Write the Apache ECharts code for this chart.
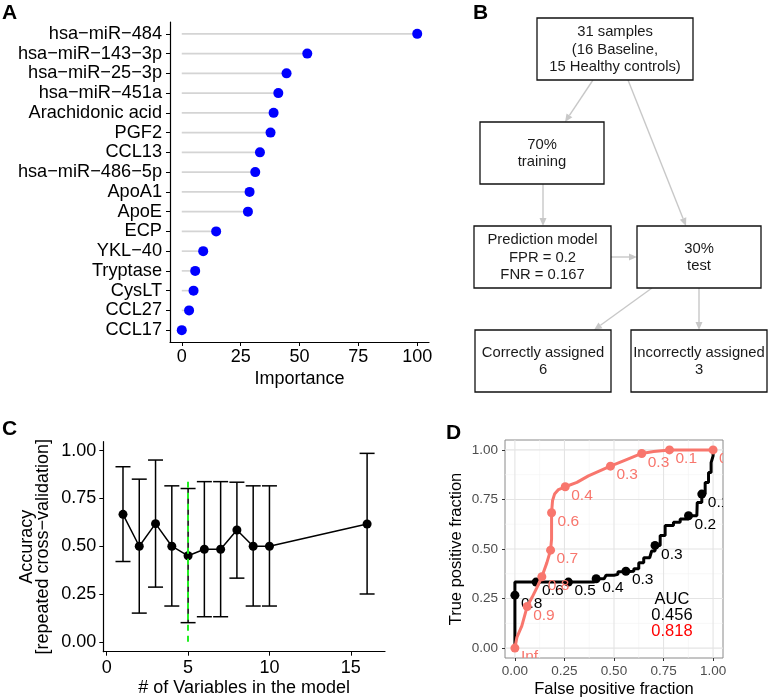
<!DOCTYPE html>
<html><head><meta charset="utf-8">
<script src="https://cdn.jsdelivr.net/npm/echarts@6/dist/echarts.min.js"></script>
<style>html,body{margin:0;padding:0;background:#fff}#c{width:768px;height:699px}</style>
</head><body><div id="c"></div>
<script>
const FONT = "'Liberation Sans', Arial, Helvetica, sans-serif";

// ---------- Panel A : variable importance ----------
const impCategories = ['hsa−miR−484', 'hsa−miR−143−3p', 'hsa−miR−25−3p', 'hsa−miR−451a', 'Arachidonic acid', 'PGF2', 'CCL13', 'hsa−miR−486−5p', 'ApoA1', 'ApoE', 'ECP', 'YKL−40', 'Tryptase', 'CysLT', 'CCL27', 'CCL17'];
const impValues = [100, 53.3, 44.5, 41.0, 39.0, 37.7, 33.2, 31.2, 28.8, 28.1, 14.6, 9.1, 5.7, 5.0, 3.1, 0];
const impTicks = [0, 25, 50, 75, 100];

// ---------- Panel B : flow chart texts ----------
const flowTexts = [
  '31 samples\n(16 Baseline,\n15 Healthy controls)',
  '70%\ntraining',
  'Prediction model\nFPR = 0.2\nFNR = 0.167',
  '30%\ntest',
  'Correctly assigned\n6',
  'Incorrectly assigned\n3'
];

// ---------- Panel C : accuracy vs number of variables ----------
const nVars = [1, 2, 3, 4, 5, 6, 7, 8, 9, 10, 16];
const accMean = [0.667, 0.50, 0.618, 0.50, 0.45, 0.484, 0.484, 0.585, 0.50, 0.50, 0.616];
const accLow = [0.42, 0.15, 0.286, 0.187, 0.10, 0.131, 0.131, 0.333, 0.187, 0.187, 0.25];
const accHigh = [0.916, 0.851, 0.951, 0.816, 0.802, 0.838, 0.838, 0.835, 0.816, 0.816, 0.986];
const nVarsTicks = [0, 5, 10, 15];
const accTicks = [0, 0.25, 0.5, 0.75, 1];
const selectedN = 5;
const selectedLineTop = 0.857;

// ---------- Panel D : ROC curves ----------
const rocTicks = [0, 0.25, 0.5, 0.75, 1];
const rocMinor = [0.125, 0.375, 0.625, 0.875];
const rocBlackFpf = [0, 0, 0.40, 0.41, 0.45, 0.46, 0.50, 0.52, 0.56, 0.60, 0.625, 0.65, 0.68, 0.69, 0.707, 0.733, 0.758, 0.80, 0.834, 0.876, 0.918, 0.92, 0.943, 0.96, 0.977, 0.99, 1.0, 1.0];
const rocBlackTpf = [0, 0.333, 0.333, 0.35, 0.352, 0.368, 0.372, 0.385, 0.388, 0.40, 0.43, 0.456, 0.456, 0.49, 0.518, 0.568, 0.618, 0.635, 0.652, 0.668, 0.668, 0.735, 0.777, 0.836, 0.886, 0.936, 0.97, 1.0];
const rocRedFpf = [0, 0.01, 0.035, 0.062, 0.086, 0.111, 0.136, 0.161, 0.18, 0.185, 0.185, 0.19, 0.2, 0.22, 0.254, 0.313, 0.371, 0.482, 0.548, 0.64, 0.70, 0.78, 1.0];
const rocRedTpf = [0, 0.054, 0.112, 0.21, 0.255, 0.305, 0.36, 0.43, 0.494, 0.55, 0.683, 0.745, 0.777, 0.80, 0.814, 0.836, 0.869, 0.918, 0.945, 0.982, 0.992, 1.0, 1.0];
const cutBlackFpf = [0, 0.107, 0.27, 0.41, 0.56, 0.707, 0.876, 0.943];
const cutBlackTpf = [0.267, 0.333, 0.333, 0.35, 0.388, 0.518, 0.668, 0.777];
const cutBlackLabels = ['0.8', '0.6', '0.5', '0.4', '0.3', '0.3', '0.2', '0.1'];
const cutRedFpf = [0, 0.062, 0.136, 0.18, 0.185, 0.254, 0.482, 0.64, 0.78, 1.0];
const cutRedTpf = [0, 0.21, 0.36, 0.494, 0.683, 0.814, 0.918, 0.982, 1.0, 1.0];
const cutRedLabels = ['Inf', '0.9', '0.8', '0.7', '0.6', '0.4', '0.3', '0.3', '0.1', '0'];
const aucTexts = ['AUC', '0.456', '0.818'];

const RED = '#F8766D';

const chart = echarts.init(document.getElementById('c'), null, {renderer: 'canvas'});

function zip(a, b) { return a.map((v, i) => [v, b[i]]); }

function blackAxis(extra) {
  return Object.assign({
    axisLine: {show: true, onZero: false, lineStyle: {color: '#000', width: 1.2}},
    splitLine: {show: false},
    nameTextStyle: {color: '#000', fontSize: 18, fontFamily: FONT}
  }, extra);
}

// ---------- Panel B graphics ----------
const boxes = [
  [537, 18, 156, 62],
  [480, 122, 124, 62],
  [474, 226, 137, 62],
  [637, 226, 124, 62],
  [475, 330, 136, 62],
  [631, 330, 136, 62]
];
const arrows = [
  [593, 80, 565, 122],
  [628, 80, 686, 226],
  [543, 184, 543, 226],
  [611, 257, 637, 257],
  [652, 288, 594, 330],
  [699, 288, 699, 330]
];
const graphics = [];
boxes.forEach((b, i) => {
  graphics.push({type: 'rect', shape: {x: b[0], y: b[1], width: b[2], height: b[3]},
    style: {fill: '#fff', stroke: '#111', lineWidth: 1.3}, z: 10});
  graphics.push({type: 'text', x: b[0] + b[2] / 2, y: b[1] + b[3] / 2 + 0.5, z: 11,
    style: {text: flowTexts[i], fill: '#1a1a1a', font: '14.8px ' + FONT, lineHeight: 17.5,
      align: 'center', verticalAlign: 'middle', textAlign: 'center', textVerticalAlign: 'middle'}});
});
arrows.forEach(a => {
  const [x1, y1, x2, y2] = a;
  const ang = Math.atan2(y2 - y1, x2 - x1);
  const L = 8, W = 3.5;
  const bx = x2 - L * Math.cos(ang), by = y2 - L * Math.sin(ang);
  const nx = -Math.sin(ang), ny = Math.cos(ang);
  graphics.push({type: 'line', z: 9, shape: {x1, y1, x2: bx, y2: by}, style: {stroke: '#c8c8c8', lineWidth: 1.4}});
  graphics.push({type: 'polygon', z: 9, shape: {points: [[x2, y2], [bx + nx * W, by + ny * W], [bx - nx * W, by - ny * W]]},
    style: {fill: '#c8c8c8'}});
});
// panel letters
[['A', 2, 3], ['B', 473, 3], ['C', 2, 419], ['D', 446, 423]].forEach(p => {
  graphics.push({type: 'text', x: p[1], y: p[2], z: 12,
    style: {text: p[0], fill: '#000', font: 'bold 21px ' + FONT, align: 'left', verticalAlign: 'top', textAlign: 'left', textVerticalAlign: 'top'}});
});
// AUC text
const aucColors = ['#000', '#000', '#ff0000'];
aucTexts.forEach((t, i) => {
  graphics.push({type: 'text', x: 672, y: 599 + i * 16.3, z: 12,
    style: {text: t, fill: aucColors[i], font: '16.5px ' + FONT, align: 'center', verticalAlign: 'middle', textAlign: 'center', textVerticalAlign: 'middle'}});
});

const impIdx = impCategories.map((c, i) => i);

const option = {
  animation: false,
  backgroundColor: '#fff',
  grid: [
    {left: 170, top: 22, width: 259, height: 320},
    {left: 103.3, top: 441.7, width: 281.7, height: 210},
    {left: 505, top: 440, width: 218, height: 219, show: true, borderColor: '#8a8a8a', borderWidth: 1, backgroundColor: '#fff'}
  ],
  xAxis: [
    blackAxis({
      gridIndex: 0, type: 'value', min: -5, max: 105,
      axisTick: {show: true, length: 4, lineStyle: {color: '#000'}, customValues: impTicks},
      axisLabel: {color: '#000', fontSize: 18, fontFamily: FONT, margin: 6, customValues: impTicks},
      name: 'Importance', nameLocation: 'middle', nameGap: 28
    }),
    blackAxis({
      gridIndex: 1, type: 'value', min: -0.21, max: 17.1,
      axisTick: {show: true, length: 4, lineStyle: {color: '#000'}, customValues: nVarsTicks},
      axisLabel: {color: '#000', fontSize: 18, fontFamily: FONT, margin: 7, customValues: nVarsTicks},
      name: '# of Variables in the model', nameLocation: 'middle', nameGap: 27
    }),
    {
      gridIndex: 2, type: 'value', min: -0.05, max: 1.05,
      axisLine: {show: false, onZero: false},
      axisTick: {show: true, length: 3, lineStyle: {color: '#333'}, customValues: rocTicks},
      axisLabel: {color: '#4d4d4d', fontSize: 13.5, fontFamily: FONT, margin: 6, customValues: rocTicks,
        formatter: v => v.toFixed(2)},
      splitLine: {show: false},
      name: 'False positive fraction', nameLocation: 'middle', nameGap: 23,
      nameTextStyle: {color: '#000', fontSize: 16.5, fontFamily: FONT}
    }
  ],
  yAxis: [
    blackAxis({
      gridIndex: 0, type: 'value', min: -0.6, max: 15.6, inverse: true,
      axisTick: {show: true, length: 4, lineStyle: {color: '#000'}, customValues: impIdx},
      axisLabel: {color: '#000', fontSize: 18.2, fontFamily: FONT, margin: 8,
        customValues: impIdx, formatter: v => impCategories[Math.round(v)]}
    }),
    blackAxis({
      gridIndex: 1, type: 'value', min: -0.052, max: 1.047,
      axisTick: {show: true, length: 4, lineStyle: {color: '#000'}, customValues: accTicks},
      axisLabel: {color: '#000', fontSize: 18, fontFamily: FONT, margin: 7, customValues: accTicks,
        formatter: v => v.toFixed(2)},
      name: 'Accuracy\n[repeated cross−validation]', nameLocation: 'middle', nameGap: 52,
      nameTextStyle: {color: '#000', fontSize: 18, fontFamily: FONT, lineHeight: 16}
    }),
    {
      gridIndex: 2, type: 'value', min: -0.05, max: 1.05,
      axisLine: {show: false, onZero: false},
      axisTick: {show: true, length: 3, lineStyle: {color: '#333'}, customValues: rocTicks},
      axisLabel: {color: '#4d4d4d', fontSize: 13.5, fontFamily: FONT, margin: 7, customValues: rocTicks,
        formatter: v => v.toFixed(2)},
      splitLine: {show: false},
      name: 'True positive fraction', nameLocation: 'middle', nameGap: 40,
      nameTextStyle: {color: '#000', fontSize: 16.5, fontFamily: FONT}
    }
  ],
  graphic: {elements: graphics},
  series: [
    // Panel A segments
    {
      type: 'custom', xAxisIndex: 0, yAxisIndex: 0, z: 2,
      data: impValues.map((v, i) => [v, i]),
      renderItem: (params, api) => {
        const p0 = api.coord([0, api.value(1)]);
        const p1 = api.coord([api.value(0), api.value(1)]);
        return {type: 'line', shape: {x1: p0[0], y1: p0[1], x2: p1[0], y2: p1[1]},
          style: {stroke: '#d4d4d4', lineWidth: 1.6}};
      }
    },
    {
      type: 'scatter', xAxisIndex: 0, yAxisIndex: 0, z: 3,
      data: impValues.map((v, i) => [v, i]), symbolSize: 10,
      itemStyle: {color: '#0000ff', opacity: 1}
    },
    // Panel C
    {
      type: 'custom', xAxisIndex: 1, yAxisIndex: 1, z: 2,
      data: nVars.map((n, i) => [n, accLow[i], accHigh[i]]),
      renderItem: (params, api) => {
        const x = api.value(0);
        const pl = api.coord([x, api.value(1)]);
        const ph = api.coord([x, api.value(2)]);
        const w = 7.5;
        const st = {stroke: '#000', lineWidth: 1.5};
        return {type: 'group', children: [
          {type: 'line', shape: {x1: pl[0], y1: pl[1], x2: ph[0], y2: ph[1]}, style: st},
          {type: 'line', shape: {x1: pl[0] - w, y1: pl[1], x2: pl[0] + w, y2: pl[1]}, style: st},
          {type: 'line', shape: {x1: ph[0] - w, y1: ph[1], x2: ph[0] + w, y2: ph[1]}, style: st}
        ]};
      }
    },
    {
      type: 'line', xAxisIndex: 1, yAxisIndex: 1, z: 3,
      data: zip(nVars, accMean), symbol: 'circle', symbolSize: 9, showSymbol: true,
      lineStyle: {color: '#000', width: 1.5}, itemStyle: {color: '#000', opacity: 1},
      markLine: {
        silent: true, symbol: ['none', 'none'], z: 5,
        lineStyle: {color: '#22ee22', width: 2, type: [6, 5]},
        label: {show: false},
        data: [[{coord: [selectedN, 0]}, {coord: [selectedN, selectedLineTop]}]]
      }
    },
    // Panel D grid lines
    {
      type: 'custom', xAxisIndex: 2, yAxisIndex: 2, z: 1, silent: true,
      data: rocMinor.map(v => [v, 0]).concat(rocTicks.map(v => [v, 1])),
      renderItem: (params, api) => {
        const cs = params.coordSys;
        const v = api.value(0), major = api.value(1) === 1;
        const px = api.coord([v, 0])[0];
        const py = api.coord([0, v])[1];
        const st = major ? {stroke: '#e4e4e4', lineWidth: 1.1} : {stroke: '#f1f1f1', lineWidth: 0.6};
        return {type: 'group', children: [
          {type: 'line', shape: {x1: px, y1: cs.y, x2: px, y2: cs.y + cs.height}, style: st},
          {type: 'line', shape: {x1: cs.x, y1: py, x2: cs.x + cs.width, y2: py}, style: st}
        ]};
      }
    },
    {
      type: 'line', xAxisIndex: 2, yAxisIndex: 2, z: 3, step: 'end',
      data: zip(rocBlackFpf, rocBlackTpf), showSymbol: false,
      lineStyle: {color: '#000', width: 3}
    },
    {
      type: 'scatter', xAxisIndex: 2, yAxisIndex: 2, z: 4,
      data: zip(cutBlackFpf, cutBlackTpf), symbolSize: 9, itemStyle: {color: '#000', opacity: 1}
    },
    {
      type: 'custom', xAxisIndex: 2, yAxisIndex: 2, z: 5, clip: true,
      data: cutBlackFpf.map((x, i) => [x, cutBlackTpf[i]]),
      renderItem: (params, api) => {
        const p = api.coord([api.value(0), api.value(1)]);
        return {type: 'text', x: p[0] + 6, y: p[1] + 9,
          style: {text: cutBlackLabels[params.dataIndex], fill: '#000', font: '15.5px ' + FONT,
            align: 'left', verticalAlign: 'middle'}};
      }
    },
    {
      type: 'line', xAxisIndex: 2, yAxisIndex: 2, z: 6,
      data: zip(rocRedFpf, rocRedTpf), showSymbol: false,
      lineStyle: {color: RED, width: 3}
    },
    {
      type: 'scatter', xAxisIndex: 2, yAxisIndex: 2, z: 7,
      data: zip(cutRedFpf, cutRedTpf), symbolSize: 9, itemStyle: {color: RED, opacity: 1}
    },
    {
      type: 'custom', xAxisIndex: 2, yAxisIndex: 2, z: 8, clip: true,
      data: cutRedFpf.map((x, i) => [x, cutRedTpf[i]]),
      renderItem: (params, api) => {
        const p = api.coord([api.value(0), api.value(1)]);
        return {type: 'text', x: p[0] + 6, y: p[1] + 9,
          style: {text: cutRedLabels[params.dataIndex], fill: RED, font: '15.5px ' + FONT,
            align: 'left', verticalAlign: 'middle'}};
      }
    }
  ]
};
chart.setOption(option);
</script></body></html>
